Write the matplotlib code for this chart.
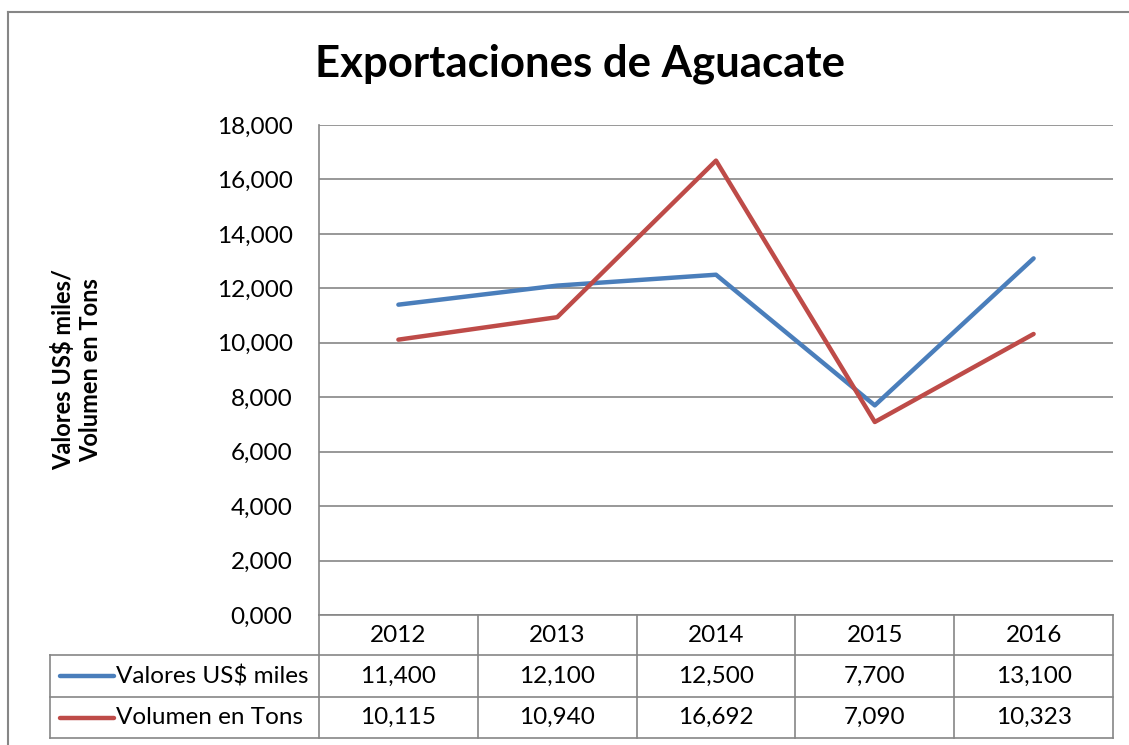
import matplotlib.pyplot as plt
from matplotlib.ticker import FuncFormatter, MultipleLocator

plt.rcParams['font.family'] = ['Lato', 'DejaVu Sans']

years = ['2012', '2013', '2014', '2015', '2016']
valores = [11400, 12100, 12500, 7700, 13100]
volumen = [10115, 10940, 16692, 7090, 10323]
series_names = ['Valores US$ miles', 'Volumen en Tons']
series_colors = ['#4A7EBB', '#BE4B48']


def fmt(v):
    # shown as "11,400" / "0,000" in the original sheet
    return f'{v/1000:.3f}'.replace('.', ',')


W, H = 1129, 745
fig = plt.figure(figsize=(W / 100, H / 100), dpi=100)

# plot area in pixels
px_left, px_right, px_top, px_bot = 319, 1113, 125, 615
ax = fig.add_axes([px_left / W, 1 - px_bot / H, (px_right - px_left) / W, (px_bot - px_top) / H])

grid_col = '#868686'
fs = 17.5
ax.plot(range(len(years)), valores, color=series_colors[0], linewidth=3.2, solid_capstyle='round')
ax.plot(range(len(years)), volumen, color=series_colors[1], linewidth=3.2, solid_capstyle='round')
ax.set_xlim(-0.5, len(years) - 0.5)
ax.set_ylim(0, 18000)
ax.yaxis.set_major_locator(MultipleLocator(2000))
ax.yaxis.set_major_formatter(FuncFormatter(lambda v, p: fmt(v)))
ax.set_xticks([])
ax.grid(axis='y', color=grid_col, linewidth=1.2)
ax.set_axisbelow(True)
for s in ['top', 'right', 'bottom']:
    ax.spines[s].set_visible(False)
ax.spines['left'].set_color(grid_col)
ax.spines['left'].set_linewidth(1.2)
ax.tick_params(axis='y', length=0, pad=19, labelsize=fs)

# overlay axes in pixel coordinates for table, title and border
ov = fig.add_axes([0, 0, 1, 1], facecolor='none')
ov.set_xlim(0, W)
ov.set_ylim(H, 0)
ov.axis('off')

ov.text(580, 64, 'Exportaciones de Aguacate', fontsize=31.5, fontweight='bold', ha='center', va='center')
ov.text(77, 370, 'Valores US$ miles/\nVolumen en Tons', fontsize=17, fontweight='bold',
        rotation=90, ha='center', va='center', linespacing=1.2)

# outer chart border
ov.plot([8, 8], [H, 12], color=grid_col, linewidth=1.5)
ov.plot([8, W], [12, 12], color=grid_col, linewidth=1.5)

# data table
col_w = (px_right - px_left) / len(years)
row_y = [615, 655, 697, 738]
lbl_left = 50
tc = grid_col
tlw = 1.2
ov.plot([px_left, px_right], [row_y[0], row_y[0]], color=tc, linewidth=tlw)
ov.plot([lbl_left, px_right], [row_y[1], row_y[1]], color=tc, linewidth=tlw)
ov.plot([lbl_left, px_right], [row_y[2], row_y[2]], color=tc, linewidth=tlw)
ov.plot([lbl_left, px_right], [row_y[3], row_y[3]], color=tc, linewidth=tlw)
ov.plot([lbl_left, lbl_left], [row_y[1], row_y[3]], color=tc, linewidth=tlw)
for i in range(len(years) + 1):
    x = px_left + i * col_w
    ov.plot([x, x], [row_y[0], row_y[3]], color=tc, linewidth=tlw)

for i, y in enumerate(years):
    xc = px_left + (i + 0.5) * col_w
    ov.text(xc, (row_y[0] + row_y[1]) / 2, y, fontsize=fs, ha='center', va='center')
    ov.text(xc, (row_y[1] + row_y[2]) / 2, fmt(valores[i]), fontsize=fs, ha='center', va='center')
    ov.text(xc, (row_y[2] + row_y[3]) / 2, fmt(volumen[i]), fontsize=fs, ha='center', va='center')

for r, (name, c) in enumerate(zip(series_names, series_colors)):
    yc = (row_y[r + 1] + row_y[r + 2]) / 2
    ov.plot([60, 114], [yc, yc], color=c, linewidth=3.2, solid_capstyle='round')
    ov.text(116, yc, name, fontsize=fs, ha='left', va='center')

fig.savefig('out.png', dpi=100)
